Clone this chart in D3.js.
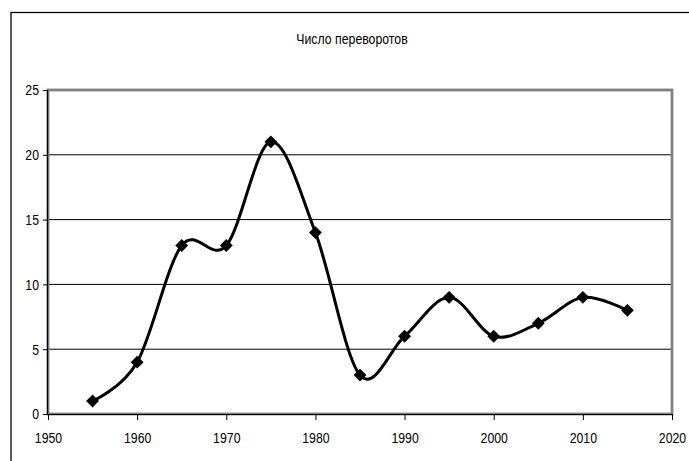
<!DOCTYPE html>
<html>
<head>
<meta charset="utf-8">
<script src="https://cdn.jsdelivr.net/npm/d3@7"></script>
<style>
  html, body { margin: 0; padding: 0; background: #fff; }
  svg { display: block; }
  text { font-family: "Liberation Sans", Arial, sans-serif; fill: #000; }
</style>
</head>
<body>
<svg id="chart" width="689" height="461"></svg>
<script>
// Data
const years = [1955, 1960, 1965, 1970, 1975, 1980, 1985, 1990, 1995, 2000, 2005, 2010, 2015];
const coups = [1, 4, 13, 13, 21, 14, 3, 6, 9, 6, 7, 9, 8];
const xTicks = [1950, 1960, 1970, 1980, 1990, 2000, 2010, 2020];
const yTicks = [0, 5, 10, 15, 20, 25];
const title = "Число переворотов";

const svg = d3.select("#chart");
const plot = { left: 48, right: 672, top: 90, bottom: 414 };
const fontSize = "15px";
const narrow = 0.82; // squeeze Liberation Sans to look like Arial Narrow

// outer chart frame (runs off the right and bottom edges)
svg.append("rect")
    .attr("x", 11).attr("y", 12.5)
    .attr("width", 700).attr("height", 470)
    .attr("fill", "none")
    .attr("stroke", "#000")
    .attr("stroke-width", 1.3);

svg.append("g")
    .attr("transform", "translate(352,44) scale(" + narrow + ",1)")
    .append("text")
    .attr("text-anchor", "middle")
    .style("font-size", fontSize)
    .text(title);

const x = d3.scaleLinear().domain([1950, 2020]).range([plot.left, plot.right]);
const y = d3.scaleLinear().domain([0, 25]).range([plot.bottom, plot.top]);

// gridlines
svg.append("g")
    .selectAll("line")
    .data(yTicks.filter(d => d > 0 && d < 25))
    .join("line")
    .attr("x1", plot.left).attr("x2", plot.right)
    .attr("y1", d => y(d)).attr("y2", d => y(d))
    .attr("stroke", "#000")
    .attr("stroke-width", 1);

// plot area border, gray
svg.append("rect")
    .attr("x", plot.left).attr("y", plot.top)
    .attr("width", plot.right - plot.left)
    .attr("height", plot.bottom - plot.top)
    .attr("fill", "none")
    .attr("stroke", "#808080")
    .attr("stroke-width", 2.8);

// axes
const xAxis = d3.axisBottom(x).tickValues(xTicks).tickFormat(d3.format("d"))
    .tickSize(6).tickPadding(12);
const yAxis = d3.axisLeft(y).tickValues(yTicks).tickSize(5).tickPadding(4);

const gx = svg.append("g")
    .attr("transform", "translate(0," + plot.bottom + ")")
    .call(xAxis);
const gy = svg.append("g")
    .attr("transform", "translate(" + plot.left + ",0)")
    .call(yAxis);

[gx, gy].forEach(g => {
    g.select(".domain").attr("stroke", "#000").attr("stroke-width", 1.2);
    g.selectAll(".tick line").attr("stroke", "#000");
    g.selectAll("text")
        .style("font-size", fontSize)
        .style("font-family", "'Liberation Sans', Arial, sans-serif")
        .attr("fill", "#000")
        .attr("x", function () { return (+d3.select(this).attr("x") || 0) / narrow; })
        .attr("transform", "scale(" + narrow + ",1)");
});
gx.select(".domain").attr("d", "M" + plot.left + ",0.5H" + plot.right);
gy.select(".domain").attr("d", "M-0.5," + plot.bottom + "V" + plot.top);

// smoothed series line
const pts = years.map((yr, i) => [x(yr), y(coups[i])]);
svg.append("path")
    .datum(pts)
    .attr("d", d3.line().curve(d3.curveCardinal.tension(0)))
    .attr("fill", "none")
    .attr("stroke", "#000")
    .attr("stroke-width", 3);

// diamond markers
svg.append("g")
    .selectAll("path")
    .data(pts)
    .join("path")
    .attr("transform", d => "translate(" + d[0] + "," + d[1] + ")")
    .attr("d", d3.symbol(d3.symbolDiamond2, 105))
    .attr("fill", "#000");
</script>
</body>
</html>
